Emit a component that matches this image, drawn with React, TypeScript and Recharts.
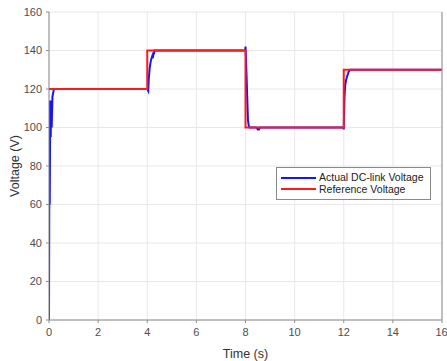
import { LineChart, Line, XAxis, YAxis, CartesianGrid } from "recharts";

const timeTicks = [0, 2, 4, 6, 8, 10, 12, 14, 16];
const voltTicks = [0, 20, 40, 60, 80, 100, 120, 140, 160];

// actual DC-link voltage (blue)
const actualT = [0, 0.01, 0.02, 0.03, 0.05, 0.07, 0.09, 0.11, 0.14, 0.17, 0.2, 2, 4, 4.04, 4.06, 4.1, 4.15, 4.2, 4.23, 4.25, 4.27, 4.3, 6, 7.99, 8.0, 8.02, 8.05, 8.08, 8.1, 8.13, 8.17, 8.3, 8.45, 8.5, 8.55, 8.58, 10, 11.99, 12.0, 12.03, 12.06, 12.1, 12.15, 12.2, 12.25, 12.3, 14, 16];
const actualV = [0, 55, 114, 60, 112, 95, 114, 100, 116, 118, 120, 120, 120, 119, 125, 131, 135, 137, 136, 139, 138, 140, 140, 140, 142, 136, 124, 112, 104, 101, 100, 100, 100, 99, 99, 100, 100, 100, 99, 116, 122, 125, 127, 129, 130, 130, 130, 130];

// reference voltage (red)
const refT = [0, 4, 4, 8, 8, 12, 12, 16];
const refV = [120, 120, 140, 140, 100, 100, 130, 130];

const seriesNames = ["Actual DC-link Voltage", "Reference Voltage"];
const seriesColors = ["#1414ff", "#ff1a1a"];

const actualData = actualT.map((t, i) => ({ t, v: actualV[i] }));
const refData = refT.map((t, i) => ({ t, v: refV[i] }));

const font = "Liberation Sans, Arial, sans-serif";
const tickStyle = { fill: "#4d4d4d", fontSize: 11, fontFamily: font };

const YLabel = ({ viewBox }: any) => {
  const cx = 16;
  const cy = viewBox.y + viewBox.height / 2;
  return (
    <text
      x={cx}
      y={cy}
      transform={`rotate(-90 ${cx} ${cy})`}
      textAnchor="middle"
      dominantBaseline="middle"
      fill="#333"
      fontSize={12.5}
      fontFamily={font}
    >
      Voltage (V)
    </text>
  );
};

export default function App() {
  return (
    <div style={{ position: "absolute", left: 0, top: 0, width: 447, height: 361, background: "#fff" }}>
      <LineChart width={447} height={361} margin={{ top: 12, right: 0, bottom: 0, left: 0 }}>
        <CartesianGrid stroke="#e8e8e8" strokeWidth={1} />
        <XAxis
          type="number"
          dataKey="t"
          domain={[0, 16]}
          ticks={timeTicks}
          allowDataOverflow
          height={41}
          tick={tickStyle}
          tickSize={3}
          tickMargin={5}
          stroke="#8c8c8c"
          label={{ value: "Time (s)", position: "insideBottom", offset: 3, fill: "#333", fontSize: 12.5, fontFamily: font }}
        />
        <XAxis xAxisId="top" orientation="top" type="number" domain={[0, 16]} ticks={timeTicks} height={0} tick={false} tickLine={false} stroke="#8c8c8c" />
        <YAxis
          type="number"
          domain={[0, 160]}
          ticks={voltTicks}
          width={49}
          tick={tickStyle}
          tickSize={3}
          tickMargin={4}
          stroke="#8c8c8c"
          label={<YLabel />}
        />
        <YAxis yAxisId="right" orientation="right" domain={[0, 160]} ticks={voltTicks} width={5} tick={false} tickLine={false} stroke="#8c8c8c" />
        <Line
          data={actualData}
          dataKey="v"
          name={seriesNames[0]}
          stroke={seriesColors[0]}
          strokeWidth={2}
          dot={false}
          type="linear"
          isAnimationActive={false}
        />
        <Line
          data={refData}
          dataKey="v"
          name={seriesNames[1]}
          stroke={seriesColors[1]}
          strokeWidth={2}
          dot={false}
          type="linear"
          isAnimationActive={false}
        />
      </LineChart>
      <div
        style={{
          position: "absolute",
          left: 276,
          top: 167,
          width: 155,
          height: 33,
          boxSizing: "border-box",
          border: "1px solid #8a8a8a",
          background: "#fff",
          padding: "4px 0 0 4px",
          fontFamily: font,
          fontSize: 10.5,
          color: "#222",
          lineHeight: "11.5px",
          whiteSpace: "nowrap",
        }}
      >
        {seriesNames.map((n, i) => (
          <div key={n} style={{ display: "flex", alignItems: "center", gap: 3 }}>
            <span style={{ display: "inline-block", flex: "0 0 35px", height: 2, background: seriesColors[i] }} />
            <span>{n}</span>
          </div>
        ))}
      </div>
    </div>
  );
}
